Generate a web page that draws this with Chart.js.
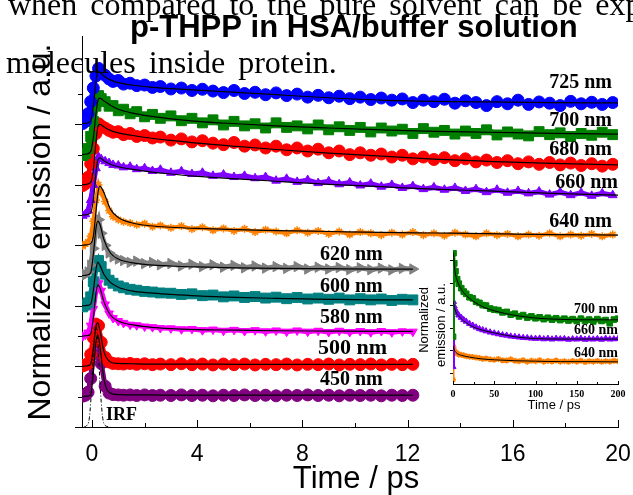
<!DOCTYPE html>
<html>
<head>
<meta charset="utf-8">
<script src="https://cdn.jsdelivr.net/npm/chart.js@4.4.0/dist/chart.umd.min.js"></script>
<style>
html, body { margin: 0; padding: 0; background: #fff; }
#main { position: absolute; left: 0; top: 0; width: 633px; height: 495px; }
#inset { position: absolute; left: 405px; top: 240px; width: 228px; height: 180px; }
</style>
</head>
<body>
<div id="main"><canvas id="c1"></canvas></div>
<div id="inset"><canvas id="c2"></canvas></div>
<script>
// ---- main panel data (time in ps, offset normalized emission) ----
var tLong = [-0.35,-0.25,-0.15,-0.05,0.05,0.15,0.25,0.35,0.5,0.65,
  0.8,1.0,1.2,1.45,1.7,2.0,2.3,2.6,3.0,3.4,
  3.8,4.2,4.6,5.0,5.4,5.8,6.2,6.6,7.0,7.4,
  7.8,8.2,8.6,9.0,9.4,9.8,10.2,10.6,11.0,11.4,
  11.8,12.2,12.6,13.0,13.4,13.8,14.2,14.6,15.0,15.4,
  15.8,16.2,16.6,17.0,17.4,17.8,18.2,18.6,19.0,19.4,
  19.8];
var tShort = [-0.35,-0.25,-0.15,-0.05,0.05,0.15,0.25,0.35,0.5,0.65,
  0.8,1.0,1.2,1.45,1.7,2.0,2.3,2.6,3.0,3.4,
  3.8,4.2,4.6,5.0,5.4,5.8,6.2,6.6,7.0,7.4,
  7.8,8.2,8.6,9.0,9.4,9.8,10.2,10.6,11.0,11.4,
  11.8,12.2];

var em725 = [10.03,10.1,10.35,10.75,11.2,11.6,11.85,11.72,11.62,11.5,
  11.42,11.45,11.33,11.36,11.28,11.3,11.22,11.25,11.17,11.2,
  11.12,11.16,11.1,11.05,11.12,11.02,11.06,10.98,11.04,10.95,
  11.0,10.9,10.96,10.88,10.93,10.85,10.9,10.82,10.87,10.8,
  10.84,10.72,10.8,10.75,10.83,10.7,10.78,10.72,10.62,10.75,
  10.68,10.8,10.66,10.74,10.7,10.62,10.76,10.68,10.73,10.66,
  10.72];
var em700 = [8.97,9.04,9.2,9.6,10.1,10.6,10.95,10.85,10.75,10.6,
  10.62,10.45,10.5,10.35,10.42,10.25,10.33,10.2,10.28,10.12,
  10.2,10.05,10.15,9.98,10.1,9.95,10.02,9.88,10.05,9.9,
  9.95,9.85,9.98,9.82,9.92,9.8,9.9,9.75,9.88,9.78,
  9.84,9.7,9.86,9.74,9.8,9.68,9.78,9.7,9.82,9.65,
  9.75,9.68,9.62,9.76,9.66,9.72,9.6,9.7,9.64,9.74,
  9.66];
var em680 = [7.98,8.04,8.25,8.7,9.2,9.7,10.02,9.95,9.88,9.8,
  9.74,9.76,9.66,9.7,9.6,9.63,9.55,9.58,9.48,9.52,
  9.42,9.46,9.38,9.33,9.4,9.28,9.32,9.22,9.28,9.16,
  9.22,9.12,9.18,9.06,9.12,9.0,9.06,8.98,9.02,8.92,
  8.98,8.86,8.92,8.84,8.9,8.8,8.86,8.76,8.82,8.74,
  8.8,8.7,8.76,8.68,8.74,8.66,8.72,8.64,8.7,8.62,
  8.68];
var em660 = [6.98,7.03,7.15,7.5,8.0,8.55,8.92,8.85,8.78,8.72,
  8.66,8.64,8.58,8.6,8.52,8.55,8.46,8.5,8.4,8.45,
  8.36,8.4,8.3,8.34,8.26,8.3,8.22,8.26,8.14,8.2,
  8.1,8.16,8.06,8.12,8.02,8.08,7.98,8.04,7.94,8.0,
  7.9,7.96,7.86,7.92,7.84,7.9,7.8,7.86,7.76,7.84,
  7.74,7.8,7.72,7.78,7.68,7.76,7.66,7.74,7.64,7.72,
  7.66];
var em640 = [5.98,6.05,6.12,6.3,6.8,7.5,8.0,7.75,7.45,7.15,
  6.95,6.85,6.78,6.74,6.68,6.72,6.62,6.66,6.58,6.64,
  6.54,6.6,6.5,6.56,6.48,6.55,6.44,6.52,6.46,6.4,
  6.5,6.42,6.48,6.38,6.46,6.36,6.44,6.4,6.34,6.42,
  6.36,6.44,6.34,6.4,6.32,6.42,6.36,6.3,6.4,6.34,
  6.38,6.3,6.36,6.32,6.4,6.3,6.36,6.32,6.38,6.3,
  6.36];
var em620 = [4.98,5.04,5.12,5.35,5.9,6.6,6.85,6.4,6.0,5.75,
  5.62,5.55,5.5,5.44,5.48,5.4,5.44,5.36,5.4,5.32,
  5.38,5.3,5.36,5.28,5.34,5.26,5.32,5.25,5.3,5.24,
  5.3,5.22,5.28,5.22,5.27,5.2,5.26,5.2,5.25,5.19,
  5.24,5.22];
var em600 = [3.97,4.03,4.1,4.3,4.8,5.3,5.5,5.3,5.05,4.85,
  4.75,4.66,4.6,4.55,4.52,4.48,4.46,4.43,4.42,4.38,
  4.4,4.34,4.36,4.3,4.33,4.28,4.31,4.26,4.29,4.24,
  4.28,4.23,4.26,4.22,4.26,4.2,4.24,4.2,4.23,4.18,
  4.22,4.2];
var em580 = [3.0,3.05,3.12,3.35,3.9,4.5,4.75,4.5,4.05,3.75,
  3.6,3.5,3.44,3.38,3.36,3.32,3.3,3.27,3.26,3.23,
  3.24,3.2,3.22,3.18,3.21,3.17,3.2,3.16,3.19,3.15,
  3.19,3.15,3.18,3.14,3.18,3.14,3.17,3.13,3.17,3.13,
  3.16,3.15];
var em500 = [2.02,2.05,2.1,2.4,2.95,3.4,3.35,2.8,2.3,2.15,
  2.1,2.09,2.08,2.1,2.07,2.09,2.06,2.08,2.06,2.09,
  2.06,2.08,2.05,2.08,2.06,2.08,2.05,2.07,2.06,2.08,
  2.05,2.07,2.06,2.08,2.05,2.07,2.06,2.08,2.05,2.07,
  2.06,2.07];
var em450 = [1.02,1.05,1.15,1.6,2.4,3.0,2.85,2.1,1.35,1.12,
  1.07,1.06,1.05,1.06,1.04,1.06,1.04,1.05,1.04,1.06,
  1.04,1.05,1.03,1.05,1.04,1.06,1.04,1.05,1.03,1.05,
  1.04,1.06,1.04,1.05,1.03,1.05,1.04,1.05,1.03,1.05,
  1.04,1.05];

// fitted curves
var tFit = [-0.38,-0.2,-0.05,0.05,0.15,0.22,0.3,0.45,0.7,1.0,1.5,2.2,3,4,5.5,7,9,11,13,15,17.5,20];
var tFitShort = [-0.38,-0.2,-0.05,0.05,0.15,0.22,0.3,0.45,0.7,1.0,1.5,2.2,3,4,5.5,7,9,11,12.2];
var fit725 = [10.03,10.04,10.12,10.6,11.4,11.76,11.72,11.6,11.47,11.38,11.3,11.23,11.18,11.13,11.06,10.98,10.88,10.8,10.76,10.74,10.72,10.71];
var fit700 = [9.0,9.02,9.1,9.55,10.35,10.78,10.87,10.78,10.63,10.5,10.38,10.27,10.18,10.1,10.02,9.95,9.88,9.82,9.77,9.74,9.7,9.68];
var fit680 = [8.0,8.02,8.08,8.5,9.4,9.9,10.0,9.92,9.8,9.72,9.64,9.55,9.47,9.38,9.27,9.17,9.05,8.95,8.85,8.78,8.71,8.66];
var fit660 = [7.0,7.02,7.08,7.5,8.4,8.82,8.89,8.8,8.68,8.6,8.52,8.43,8.36,8.28,8.2,8.12,8.02,7.94,7.86,7.8,7.72,7.66];
var fit640 = [6.0,6.02,6.06,6.3,7.1,7.7,7.96,7.75,7.2,6.92,6.75,6.65,6.6,6.56,6.52,6.49,6.46,6.43,6.41,6.39,6.36,6.34];
var fit620 = [5.0,5.02,5.1,5.7,6.55,6.8,6.7,6.2,5.75,5.55,5.43,5.36,5.32,5.29,5.26,5.24,5.23,5.22,5.22];
var fit600 = [4.0,4.02,4.06,4.5,5.2,5.45,5.35,5.05,4.78,4.62,4.5,4.43,4.38,4.33,4.28,4.25,4.22,4.2,4.2];
var fit580 = [3.0,3.02,3.08,3.6,4.4,4.7,4.6,4.15,3.7,3.5,3.38,3.3,3.25,3.22,3.2,3.18,3.17,3.16,3.16];
var fit500 = [2.0,2.02,2.08,2.6,3.3,3.45,3.2,2.5,2.15,2.1,2.09,2.08,2.08,2.08,2.07,2.07,2.07,2.07,2.07];
var fit450 = [1.0,1.02,1.06,1.8,2.8,3.05,2.7,1.6,1.12,1.07,1.06,1.06,1.05,1.05,1.05,1.05,1.05,1.05,1.05];

// instrument response
var tIrf = [-0.3,-0.2,-0.1,0,0.05,0.1,0.15,0.2,0.25,0.3,0.4,0.5,0.7];
var irf = [0,0.05,0.3,1.5,2.4,3.1,3.4,3.1,2.4,1.5,0.35,0.05,0];

var seriesNames = ['725 nm','700 nm','680 nm','660 nm','640 nm','620 nm','600 nm','580 nm','500 nm','450 nm'];
var xTickVals = [0,2,4,6,8,10,12,14,16,18,20];
var xTickLabels = [0,4,8,12,16,20];
var yTickVals = [0,1,2,3,4,5,6,7,8,9,10,11,12];

// ---- inset data (0-200 ps) ----
var tInset = [0,0.6,1.5,3,5,7,10,13,16,20,
  24,28,32,36,40,45,50,55,60,65,
  70,75,80,85,90,95,100,105,110,115,
  120,125,130,135,140,145,150,155,160,165,
  170,175,180,185,190,195,200];
var in700 = [1.6,5.3,4.85,4.5,4.15,3.95,3.75,3.6,3.5,3.35,
  3.3,3.15,3.1,3.0,2.98,2.85,2.8,2.78,2.68,2.7,
  2.58,2.62,2.5,2.56,2.45,2.5,2.42,2.46,2.38,2.44,
  2.36,2.42,2.34,2.4,2.32,2.38,2.3,2.4,2.3,2.36,
  2.28,2.38,2.3,2.34,2.2,2.36,2.4];
var in660 = [0.27,3.15,2.95,2.78,2.65,2.55,2.45,2.35,2.28,2.18,
  2.1,2.02,1.95,1.9,1.85,1.8,1.76,1.72,1.68,1.66,
  1.62,1.6,1.58,1.56,1.55,1.53,1.52,1.53,1.5,1.52,
  1.49,1.52,1.5,1.51,1.48,1.5,1.49,1.52,1.48,1.5,
  1.49,1.51,1.48,1.52,1.49,1.5,1.51];
var in640 = [-0.3,1.15,1.0,0.9,0.88,0.82,0.8,0.78,0.74,0.72,
  0.7,0.68,0.66,0.62,0.64,0.6,0.58,0.62,0.56,0.55,
  0.6,0.54,0.52,0.56,0.5,0.54,0.52,0.56,0.5,0.53,
  0.51,0.55,0.5,0.52,0.49,0.53,0.5,0.54,0.48,0.52,
  0.5,0.53,0.49,0.52,0.5,0.54,0.52];
var tInsetFit = [0,0.6,2,5,10,20,35,50,75,100,130,160,200];
var fitIn700 = [5.35,5.25,4.6,4.1,3.7,3.3,2.95,2.75,2.55,2.43,2.37,2.35,2.35];
var fitIn660 = [3.2,3.1,2.85,2.6,2.4,2.12,1.9,1.77,1.6,1.52,1.5,1.5,1.5];
var fitIn640 = [1.2,1.1,0.98,0.86,0.78,0.7,0.62,0.58,0.54,0.52,0.5,0.5,0.49];
var insetNames = ['700 nm','660 nm','640 nm'];
var insetXTicks = [0,50,100,150,200];
var insetYTicks = [0,1,2,3,4,5];

var pageText = ['when compared to the pure solvent can be expl', 'molecules inside protein.'];
var chartTitle = 'p-THPP in HSA/buffer solution';

function pts(t, v) {
  return t.map(function (x, i) { return { x: x, y: v[i] }; });
}
function markSet(t, v, color, style, r, rot, bw) {
  return {
    data: pts(t, v), showLine: true, borderColor: color, borderWidth: bw,
    pointStyle: style, pointRadius: r, pointRotation: rot || 0,
    pointBackgroundColor: color, pointBorderColor: color, pointBorderWidth: style === 'star' ? 1.5 : 1,
    order: 2
  };
}
function fitSet(t, v, w) {
  return { data: pts(t, v), showLine: true, borderColor: '#000', borderWidth: w,
    pointRadius: 0, cubicInterpolationMode: 'monotone', order: 1 };
}
// keep the last tick label from shrinking the plot area
function noSidePad(s) { s.paddingLeft = 0; s.paddingRight = 0; }

var BLUE = '#0000ff', GREEN = '#008000', RED = '#ff0000', VIOLET = '#8000ff', ORANGE = '#ff8000',
    GRAY = '#808080', TEAL = '#008080', MAGENTA = '#ff00ff', PURPLE = '#800080';

var mainSets = [
  markSet(tLong, em725, BLUE, 'circle', 6, 0, 5),
  markSet(tLong, em700, GREEN, 'rect', 7, 0, 6),
  markSet(tLong, em680, RED, 'circle', 6, 0, 5),
  markSet(tLong, em660, VIOLET, 'triangle', 5, 0, 5),
  markSet(tLong, em640, ORANGE, 'star', 4, 0, 4),
  markSet(tShort, em620, GRAY, 'triangle', 6, 90, 5),
  markSet(tShort, em600, TEAL, 'rect', 7, 0, 6),
  markSet(tShort, em580, MAGENTA, 'triangle', 5, 180, 5),
  markSet(tShort, em500, RED, 'circle', 6, 0, 5),
  markSet(tShort, em450, PURPLE, 'circle', 6, 0, 5),
  fitSet(tFit, fit725, 1.2), fitSet(tFit, fit700, 1.2), fitSet(tFit, fit680, 1.2),
  fitSet(tFit, fit660, 1.2), fitSet(tFit, fit640, 1.2),
  fitSet(tFitShort, fit620, 1.2), fitSet(tFitShort, fit600, 1.2), fitSet(tFitShort, fit580, 1.2),
  fitSet(tFitShort, fit500, 1.2), fitSet(tFitShort, fit450, 1.2),
  { data: pts(tIrf, irf), showLine: true, borderColor: '#000', borderWidth: 1,
    borderDash: [4, 2, 1, 2], pointRadius: 0, cubicInterpolationMode: 'monotone', order: 0 }
];

var decor = {
  id: 'decor',
  afterDraw: function (chart) {
    var ctx = chart.ctx, a = chart.chartArea, x = chart.scales.x, y = chart.scales.y;
    ctx.save();
    ctx.strokeStyle = '#000';
    ctx.lineWidth = 1;
    xTickVals.forEach(function (v) {
      var px = Math.round(x.getPixelForValue(v)) + 0.5;
      var len = xTickLabels.indexOf(v) >= 0 ? 7 : 4;
      ctx.beginPath(); ctx.moveTo(px, a.bottom); ctx.lineTo(px, a.bottom - len); ctx.stroke();
    });
    yTickVals.forEach(function (v) {
      var py = Math.round(y.getPixelForValue(v)) + 0.5;
      var len = v % 2 === 0 ? 7 : 4;
      ctx.beginPath(); ctx.moveTo(a.left - len, py); ctx.lineTo(a.left, py); ctx.stroke();
    });

    ctx.fillStyle = '#000';
    ctx.textBaseline = 'alphabetic';
    ctx.textAlign = 'left';
    ctx.font = '32px "Liberation Serif"';
    ctx.wordSpacing = '5px';
    ctx.fillText(pageText[0], 8, 15);
    ctx.fillText(pageText[1], 6, 73);
    ctx.wordSpacing = '0px';

    ctx.font = 'bold 31px "Liberation Sans"';
    ctx.fillText(chartTitle, 130, 37);

    ctx.save();
    ctx.translate(50, 232);
    ctx.rotate(-Math.PI / 2);
    ctx.textAlign = 'center';
    ctx.font = '32px "Liberation Sans"';
    ctx.fillText('Normalized emission / a.u.', 0, 0);
    ctx.restore();

    ctx.textAlign = 'center';
    ctx.font = '31px "Liberation Sans"';
    ctx.fillText('Time / ps', 356, 488);

    // wavelength labels
    var spots = [[612, 88, 'right'], [612, 126, 'right'], [612, 155, 'right'], [618, 188, 'right'],
                 [612, 227, 'right'], [320, 260, 'left'], [320, 292, 'left'], [320, 323, 'left'],
                 [318, 354, 'left'], [320, 385, 'left']];
    seriesNames.forEach(function (s, i) {
      ctx.textAlign = spots[i][2];
      ctx.font = (i === 8 ? 'bold 22px' : 'bold 20px') + ' "Liberation Serif"';
      ctx.fillText(s, spots[i][0], spots[i][1]);
    });
    ctx.textAlign = 'left';
    ctx.font = 'bold 18px "Liberation Serif"';
    ctx.fillText('IRF', 106, 420);
    ctx.restore();
  }
};

new Chart(document.getElementById('c1'), {
  type: 'scatter',
  data: { datasets: mainSets },
  options: {
    responsive: true, maintainAspectRatio: false, animation: false,
    layout: { padding: { left: 0, right: 15, top: 36, bottom: 0 } },
    plugins: { legend: { display: false }, tooltip: { enabled: false } },
    scales: {
      x: {
        type: 'linear', min: -0.38, max: 20,
        afterFit: function (s) { s.height = 68; noSidePad(s); },
        afterBuildTicks: function (s) { s.ticks = xTickVals.map(function (v) { return { value: v }; }); },
        grid: { display: false, drawTicks: false },
        border: { display: true, color: '#000', width: 1 },
        ticks: {
          padding: 14, color: '#000', maxRotation: 0, autoSkip: false,
          font: { family: 'Liberation Sans', size: 23 },
          callback: function (v) { return xTickLabels.indexOf(v) >= 0 ? String(v) : ''; }
        }
      },
      y: {
        type: 'linear', min: 0, max: 12.92,
        afterFit: function (s) { s.width = 82; },
        grid: { display: false, drawTicks: false },
        border: { display: true, color: '#000', width: 1 },
        ticks: { display: false }
      }
    }
  },
  plugins: [decor]
});

// ---- inset ----
var insetSets = [
  markSet(tInset, in700, GREEN, 'rect', 4, 0, 3),
  markSet(tInset, in660, VIOLET, 'triangle', 3.5, 0, 3),
  markSet(tInset, in640, ORANGE, 'star', 3, 0, 2),
  fitSet(tInsetFit, fitIn700, 1), fitSet(tInsetFit, fitIn660, 1), fitSet(tInsetFit, fitIn640, 1)
];

var insetDecor = {
  id: 'insetDecor',
  afterDraw: function (chart) {
    var ctx = chart.ctx, a = chart.chartArea, x = chart.scales.x, y = chart.scales.y;
    ctx.save();
    ctx.strokeStyle = '#000';
    ctx.lineWidth = 1;
    [0, 25, 50, 75, 100, 125, 150, 175, 200].forEach(function (v) {
      var px = Math.round(x.getPixelForValue(v)) + 0.5;
      var len = v % 50 === 0 ? 3 : 2;
      ctx.beginPath(); ctx.moveTo(px, a.bottom); ctx.lineTo(px, a.bottom - len); ctx.stroke();
    });
    insetYTicks.forEach(function (v) {
      var py = Math.round(y.getPixelForValue(v)) + 0.5;
      ctx.beginPath(); ctx.moveTo(a.left - 3, py); ctx.lineTo(a.left, py); ctx.stroke();
    });
    ctx.fillStyle = '#000';
    ctx.textBaseline = 'alphabetic';
    ctx.font = '13px "Liberation Sans"';
    ctx.textAlign = 'center';
    ctx.fillText('Time / ps', 149, 169);
    ctx.save();
    ctx.translate(23, 80); ctx.rotate(-Math.PI / 2);
    ctx.fillText('Normalized', 0, 0);
    ctx.restore();
    ctx.save();
    ctx.translate(40, 85); ctx.rotate(-Math.PI / 2);
    ctx.fillText('emission / a.u.', 0, 0);
    ctx.restore();
    ctx.textAlign = 'right';
    ctx.font = 'bold 14px "Liberation Serif"';
    var ys = [73, 94, 117];
    insetNames.forEach(function (s, i) { ctx.fillText(s, 213, ys[i]); });
    ctx.restore();
  }
};

new Chart(document.getElementById('c2'), {
  type: 'scatter',
  data: { datasets: insetSets },
  options: {
    responsive: true, maintainAspectRatio: false, animation: false,
    layout: { padding: { left: 0, right: 15, top: 10, bottom: 0 } },
    plugins: { legend: { display: false }, tooltip: { enabled: false } },
    scales: {
      x: {
        type: 'linear', min: 0, max: 200,
        afterFit: function (s) { s.height = 36; noSidePad(s); },
        afterBuildTicks: function (s) { s.ticks = insetXTicks.map(function (v) { return { value: v }; }); },
        grid: { display: false, drawTicks: false },
        border: { display: true, color: '#000', width: 1 },
        ticks: { padding: 4, color: '#000', maxRotation: 0, autoSkip: false,
          font: { family: 'Liberation Serif', size: 10, weight: 'bold' } }
      },
      y: {
        type: 'linear', min: -0.49, max: 5.44,
        afterFit: function (s) { s.width = 48; },
        grid: { display: false, drawTicks: false },
        border: { display: true, color: '#000', width: 1 },
        ticks: { display: false }
      }
    }
  },
  plugins: [insetDecor]
});
</script>
</body>
</html>
